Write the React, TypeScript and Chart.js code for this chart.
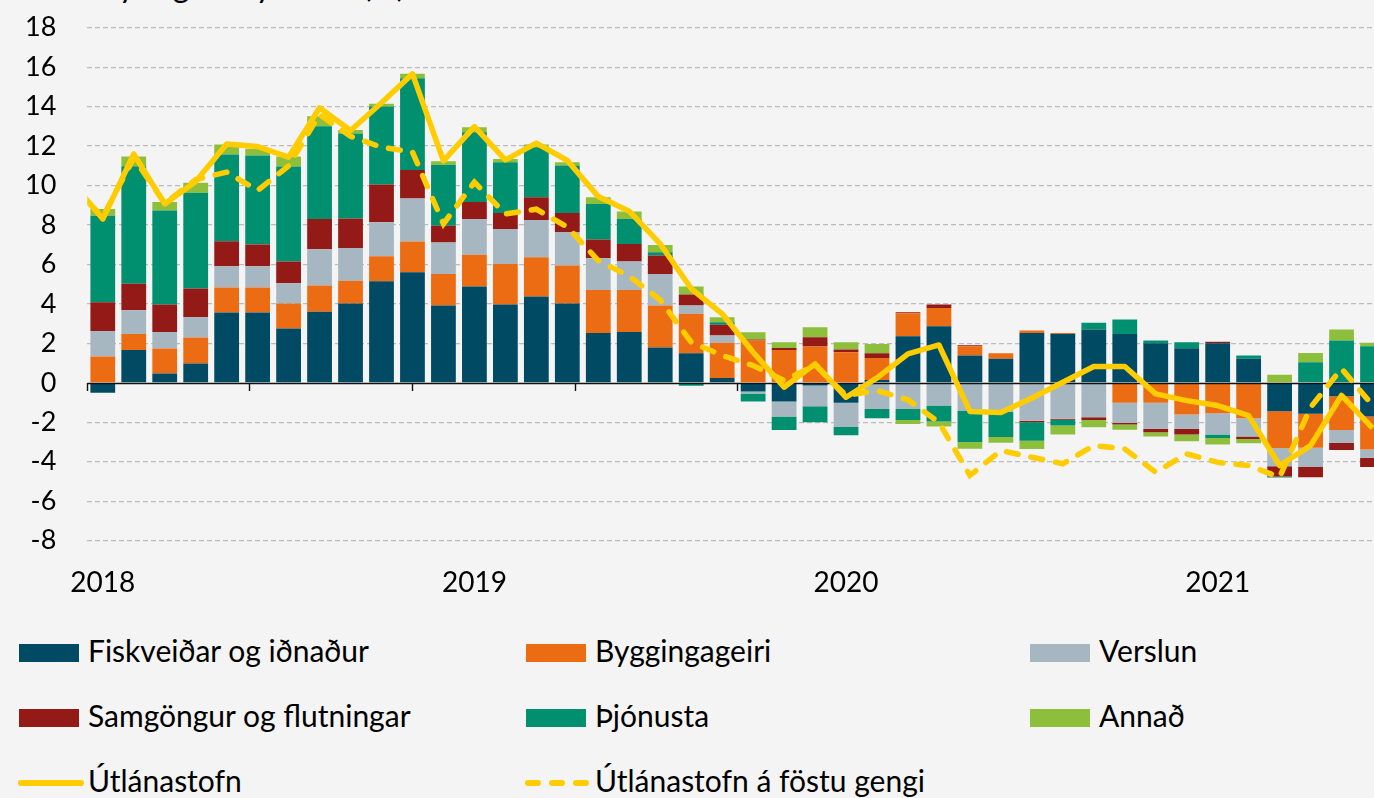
import React, { useEffect, useRef } from 'react';
import { Chart, registerables } from 'chart.js';

Chart.register(...registerables);

// ---------- data ----------
// months of the bar series (Jan 2018 - Jun 2021)
const barMonths = [
  '2018-01','2018-02','2018-03','2018-04','2018-05','2018-06','2018-07','2018-08','2018-09','2018-10','2018-11','2018-12',
  '2019-01','2019-02','2019-03','2019-04','2019-05','2019-06','2019-07','2019-08','2019-09','2019-10','2019-11','2019-12',
  '2020-01','2020-02','2020-03','2020-04','2020-05','2020-06','2020-07','2020-08','2020-09','2020-10','2020-11','2020-12',
  '2021-01','2021-02','2021-03','2021-04','2021-05','2021-06',
];
// the lines start one month earlier (Dec 2017), clipped at the left edge
const lineMonths = ['2017-12', ...barMonths];

const yearLabels = ['2018', '2019', '2020', '2021'];
const yearLabelMonths = ['2018-01', '2019-01', '2020-01', '2021-01'];
const halfYearTickMonths = ['2018-01','2018-07','2019-01','2019-07','2020-01','2020-07','2021-01','2021-07'];

const fiskveidar = [
  -0.5, 1.67, 0.47, 0.98, 3.56, 3.56, 2.75, 3.61, 4.02, 5.15, 5.61, 3.92,
  4.88, 3.97, 4.38, 4.02, 2.53, 2.58, 1.79, 1.5, 0.25, -0.44, -0.95, -0.14,
  -1.01, 0.14, 2.36, 2.87, 1.39, 1.22, 2.53, 2.48, 2.7, 2.48, 2.01, 1.76,
  2.01, 1.22, -1.44, -1.57, -0.68, -1.71,
];
const byggingageiri = [
  1.33, 0.81, 1.27, 1.32, 1.27, 1.27, 1.27, 1.32, 1.15, 1.27, 1.55, 1.6,
  1.61, 2.06, 1.99, 1.93, 2.18, 2.13, 2.13, 2.0, 1.78, 2.15, 1.67, 1.84,
  1.55, 1.12, 1.17, 0.93, 0.46, 0.28, 0.12, 0.05, 0, -1.01, -1.01, -1.6,
  -1.54, -1.79, -1.86, -1.72, -1.71, -1.67,
];
const verslun = [
  1.3, 1.2, 0.84, 1.03, 1.08, 1.08, 1.03, 1.84, 1.67, 1.72, 2.18, 1.59,
  1.82, 1.77, 1.89, 1.69, 1.61, 1.44, 1.6, 0.42, 0.37, -0.1, -0.76, -1.05,
  -1.23, -1.32, -1.32, -1.15, -1.4, -1.46, -1.92, -1.82, -1.74, -1.03, -1.32, -0.73,
  -1.08, -0.93, -0.93, -0.98, -0.66, -0.42,
];
const samgongur = [
  1.45, 1.34, 1.39, 1.45, 1.27, 1.1, 1.1, 1.54, 1.49, 1.91, 1.45, 0.85,
  0.86, 0.81, 1.15, 0.97, 0.94, 0.89, 0.93, 0.56, 0.54, 0.05, 0.1, 0.47,
  0.14, 0.24, 0.05, 0.17, 0.05, 0, -0.08, -0.05, -0.14, -0.07, -0.17, -0.29,
  0.07, -0.12, -0.52, -0.51, -0.35, -0.47,
];
const thjonusta = [
  4.39, 5.96, 4.76, 4.85, 4.39, 4.51, 4.81, 4.69, 4.31, 3.95, 4.65, 3.1,
  3.53, 2.57, 2.53, 2.4, 1.81, 1.27, 0.17, -0.15, 0.13, -0.4, -0.68, -0.81,
  -0.42, -0.47, -0.56, -0.81, -1.6, -1.28, -0.93, -0.29, 0.34, 0.73, 0.14, 0.3,
  -0.17, 0.17, -0.05, 1.05, 2.15, 1.86,
];
const annad = [
  0.34, 0.49, 0.44, 0.51, 0.51, 0.34, 0.51, 0.51, 0.17, 0.14, 0.22, 0.17,
  0.26, 0.17, 0.14, 0.17, 0.34, 0.37, 0.37, 0.4, 0.26, 0.37, 0.29, 0.51,
  0.37, 0.47, -0.2, -0.25, -0.34, -0.29, -0.42, -0.46, -0.37, -0.27, -0.22, -0.34,
  -0.34, -0.22, 0.41, 0.46, 0.56, 0.17,
];
const utlanastofn = [
  10.2,
  8.3, 11.6, 9.07, 10.2, 12.1, 11.98, 11.44, 13.94, 12.79, 14.2, 15.66, 11.25,
  12.99, 11.3, 12.15, 11.27, 9.44, 8.7, 7.04, 4.78, 3.5, 1.55, -0.22, 0.96,
  -0.73, 0.25, 1.47, 1.92, -1.45, -1.5, -0.77, 0.03, 0.83, 0.83, -0.56, -0.9,
  -1.15, -1.66, -4.19, -3.18, -0.64, -2.3,
];
const utlanastofnFastGengi = [
  10.0,
  8.4, 11.4, 9.1, 10.3, 10.68, 9.75, 11.0, 13.6, 12.5, 11.94, 11.7, 8.06,
  10.17, 8.56, 8.8, 7.9, 6.2, 5.4, 4.2, 2.06, 1.39, 0.88, 0.12, 0.9,
  -0.64, -0.39, -0.86, -2.0, -4.69, -3.43, -3.77, -4.1, -3.18, -3.35, -4.53, -3.6,
  -4.03, -4.19, -4.78, -1.24, 0.72, -1.13,
];

const seriesLabels = [
  'Fiskveiðar og iðnaður', 'Byggingageiri', 'Verslun',
  'Samgöngur og flutningar', 'Þjónusta', 'Annað',
];
const lineLabels = ['Útlánastofn', 'Útlánastofn á föstu gengi'];
const titleText = 'Breyting frá fyrra ári (%)';

// ---------- styles ----------
const BG = '#f4f4f4';
const COLORS = ['#004A64', '#EC6C14', '#A7B7C1', '#931A17', '#00906F', '#8EBF3C'];
const YELLOW = '#FFCC00';
const FONT = 'Lato';

const CANVAS_W = 1388;
const CANVAS_H = 600;

const monthIndex = (m: string) => {
  const [y, mo] = m.split('-').map(Number);
  return (y - 2018) * 12 + (mo - 1);
};

export default function App() {
  const canvasRef = useRef<HTMLCanvasElement | null>(null);

  useEffect(() => {
    document.body.style.margin = '0';
    document.body.style.background = BG;
    document.body.style.overflow = 'hidden';

    let chart: Chart | null = null;
    let cancelled = false;

    const barSets = [fiskveidar, byggingageiri, verslun, samgongur, thjonusta, annad].map((vals, k) => ({
      type: 'bar' as const,
      label: seriesLabels[k],
      data: barMonths.map((m, i) => ({ x: monthIndex(m), y: vals[i] })),
      backgroundColor: COLORS[k],
      borderWidth: 0,
      stack: 'bars',
      order: 2,
      categoryPercentage: 1,
      barPercentage: 0.8,
    }));

    const lineSets = [
      {
        type: 'line' as const,
        label: lineLabels[0],
        data: lineMonths.map((m, i) => ({ x: monthIndex(m), y: utlanastofn[i] })),
        borderColor: YELLOW,
        backgroundColor: YELLOW,
        borderWidth: 5.5,
        pointRadius: 0,
        tension: 0,
        borderJoinStyle: 'round' as const,
        stack: 'l1',
        order: 1,
      },
      {
        type: 'line' as const,
        label: lineLabels[1],
        data: lineMonths.map((m, i) => ({ x: monthIndex(m), y: utlanastofnFastGengi[i] })),
        borderColor: YELLOW,
        backgroundColor: YELLOW,
        borderWidth: 5.5,
        borderDash: [12, 13],
        borderCapStyle: 'round' as const,
        pointRadius: 0,
        tension: 0,
        stack: 'l2',
        order: 1,
      },
    ];

    const zeroLine = {
      id: 'zeroLine',
      afterDatasetDraw(c: any, args: any) {
        // bars are drawn first (higher order); index 0 is the last bar set drawn
        if (args.index !== 0) return;
        const y = Math.round(c.scales.y.getPixelForValue(0)) + 0.5;
        const { left, right } = c.chartArea;
        const ctx = c.ctx;
        ctx.save();
        ctx.strokeStyle = '#111';
        ctx.lineWidth = 1.4;
        ctx.beginPath();
        ctx.moveTo(left, y);
        ctx.lineTo(right, y);
        ctx.stroke();
        ctx.restore();
      },
    };

    const build = () => {
      if (cancelled || !canvasRef.current) return;
      chart = new Chart(canvasRef.current, {
        type: 'bar',
        data: { datasets: [...barSets, ...lineSets] as any },
        options: {
          animation: false,
          responsive: false,
          maintainAspectRatio: false,
          devicePixelRatio: 1,
          layout: { padding: { top: 27.7, left: 0, right: 0, bottom: 0 } },
          plugins: { legend: { display: false }, tooltip: { enabled: false }, title: { display: false } },
          scales: {
            x: {
              type: 'linear',
              min: -0.5,
              max: barMonths.length - 0.5,
              offset: false,
              grid: { display: false, drawTicks: false },
              border: { display: false },
              afterBuildTicks: (s: any) => {
                s.ticks = yearLabelMonths.map((m) => ({ value: monthIndex(m) }));
              },
              afterFit: (s: any) => {
                s.height = CANVAS_H - 540.7;
              },
              ticks: {
                autoSkip: false,
                maxRotation: 0,
                padding: 25,
                color: '#000',
                font: { family: FONT, size: 28 },
                callback: (v: any) => {
                  const k = yearLabelMonths.findIndex((m) => monthIndex(m) === v);
                  return k >= 0 ? yearLabels[k] : '';
                },
              },
            },
            x2: {
              type: 'linear',
              position: { y: 0 } as any,
              min: -0.5,
              max: barMonths.length - 0.5,
              afterBuildTicks: (s: any) => {
                s.ticks = halfYearTickMonths.map((m) => ({ value: monthIndex(m) - 0.5 }));
              },
              grid: {
                drawOnChartArea: false,
                drawTicks: true,
                tickLength: 8,
                tickWidth: 1.4,
                tickColor: '#111',
                color: '#111',
              },
              border: { display: false },
              ticks: { display: false },
            },
            y: {
              type: 'linear',
              stacked: true,
              min: -8,
              max: 18,
              afterFit: (s: any) => {
                s.width = 87.3;
              },
              ticks: {
                stepSize: 2,
                padding: 0,
                color: '#000',
                font: { family: FONT, size: 27 },
              },
              grid: {
                drawTicks: true,
                tickLength: 31,
                tickColor: 'rgba(0,0,0,0)',
                lineWidth: 1.3,
                color: (ctx: any) => (ctx.tick && ctx.tick.value === 0 ? 'rgba(0,0,0,0)' : '#BCBCBC'),
              },
              border: { display: false, dash: [5, 3] },
            },
          },
        },
        plugins: [zeroLine],
      } as any);
    };

    const fontsReady = (document as any).fonts?.load
      ? Promise.all([
          (document as any).fonts.load(`27px ${FONT}`),
          (document as any).fonts.load(`28px ${FONT}`),
        ]).catch(() => null)
      : Promise.resolve(null);
    fontsReady.then(build);

    return () => {
      cancelled = true;
      if (chart) chart.destroy();
    };
  }, []);

  const legendCols = [19, 526, 1030];
  const legendBaselines = [662, 727, 792];
  const LEG_FONT = 30;
  const textStyle: React.CSSProperties = {
    position: 'absolute',
    fontFamily: FONT,
    fontSize: LEG_FONT,
    lineHeight: '36px',
    color: '#000',
    whiteSpace: 'nowrap',
  };
  // baseline offset inside a 36px line box for Lato
  const baseOff = (36 - LEG_FONT * 1.2) / 2 + LEG_FONT * 0.987;

  return (
    <div
      style={{
        position: 'fixed',
        left: 0,
        top: 0,
        width: 1374,
        height: 798,
        overflow: 'hidden',
        background: BG,
      }}
    >
      <div style={{ ...textStyle, fontSize: 32, lineHeight: '38px', left: 71, top: -33.6 }}>{titleText}</div>
      <div style={{ position: 'absolute', left: 0, top: 0, width: CANVAS_W, height: CANVAS_H }}>
        <canvas ref={canvasRef} width={CANVAS_W} height={CANVAS_H} style={{ width: CANVAS_W, height: CANVAS_H, display: 'block' }} />
      </div>
      {seriesLabels.map((lab, k) => {
        const col = legendCols[k % 3];
        const base = legendBaselines[Math.floor(k / 3)];
        return (
          <React.Fragment key={lab}>
            <div
              style={{
                position: 'absolute',
                left: col,
                top: base - 18,
                width: 60,
                height: 18,
                background: COLORS[k],
              }}
            />
            <div style={{ ...textStyle, left: col + 69, top: base - baseOff }}>{lab}</div>
          </React.Fragment>
        );
      })}
      {lineLabels.map((lab, k) => {
        const col = legendCols[k];
        const base = legendBaselines[2];
        return (
          <React.Fragment key={lab}>
            <svg
              style={{ position: 'absolute', left: col - 2, top: base - 19, width: 70, height: 20 }}
              width={70}
              height={20}
            >
              <line
                x1={4}
                y1={10}
                x2={64}
                y2={10}
                stroke={YELLOW}
                strokeWidth={6}
                strokeLinecap="round"
                strokeDasharray={k === 1 ? '10 14' : undefined}
              />
            </svg>
            <div style={{ ...textStyle, left: col + 69, top: base - baseOff }}>{lab}</div>
          </React.Fragment>
        );
      })}
    </div>
  );
}
